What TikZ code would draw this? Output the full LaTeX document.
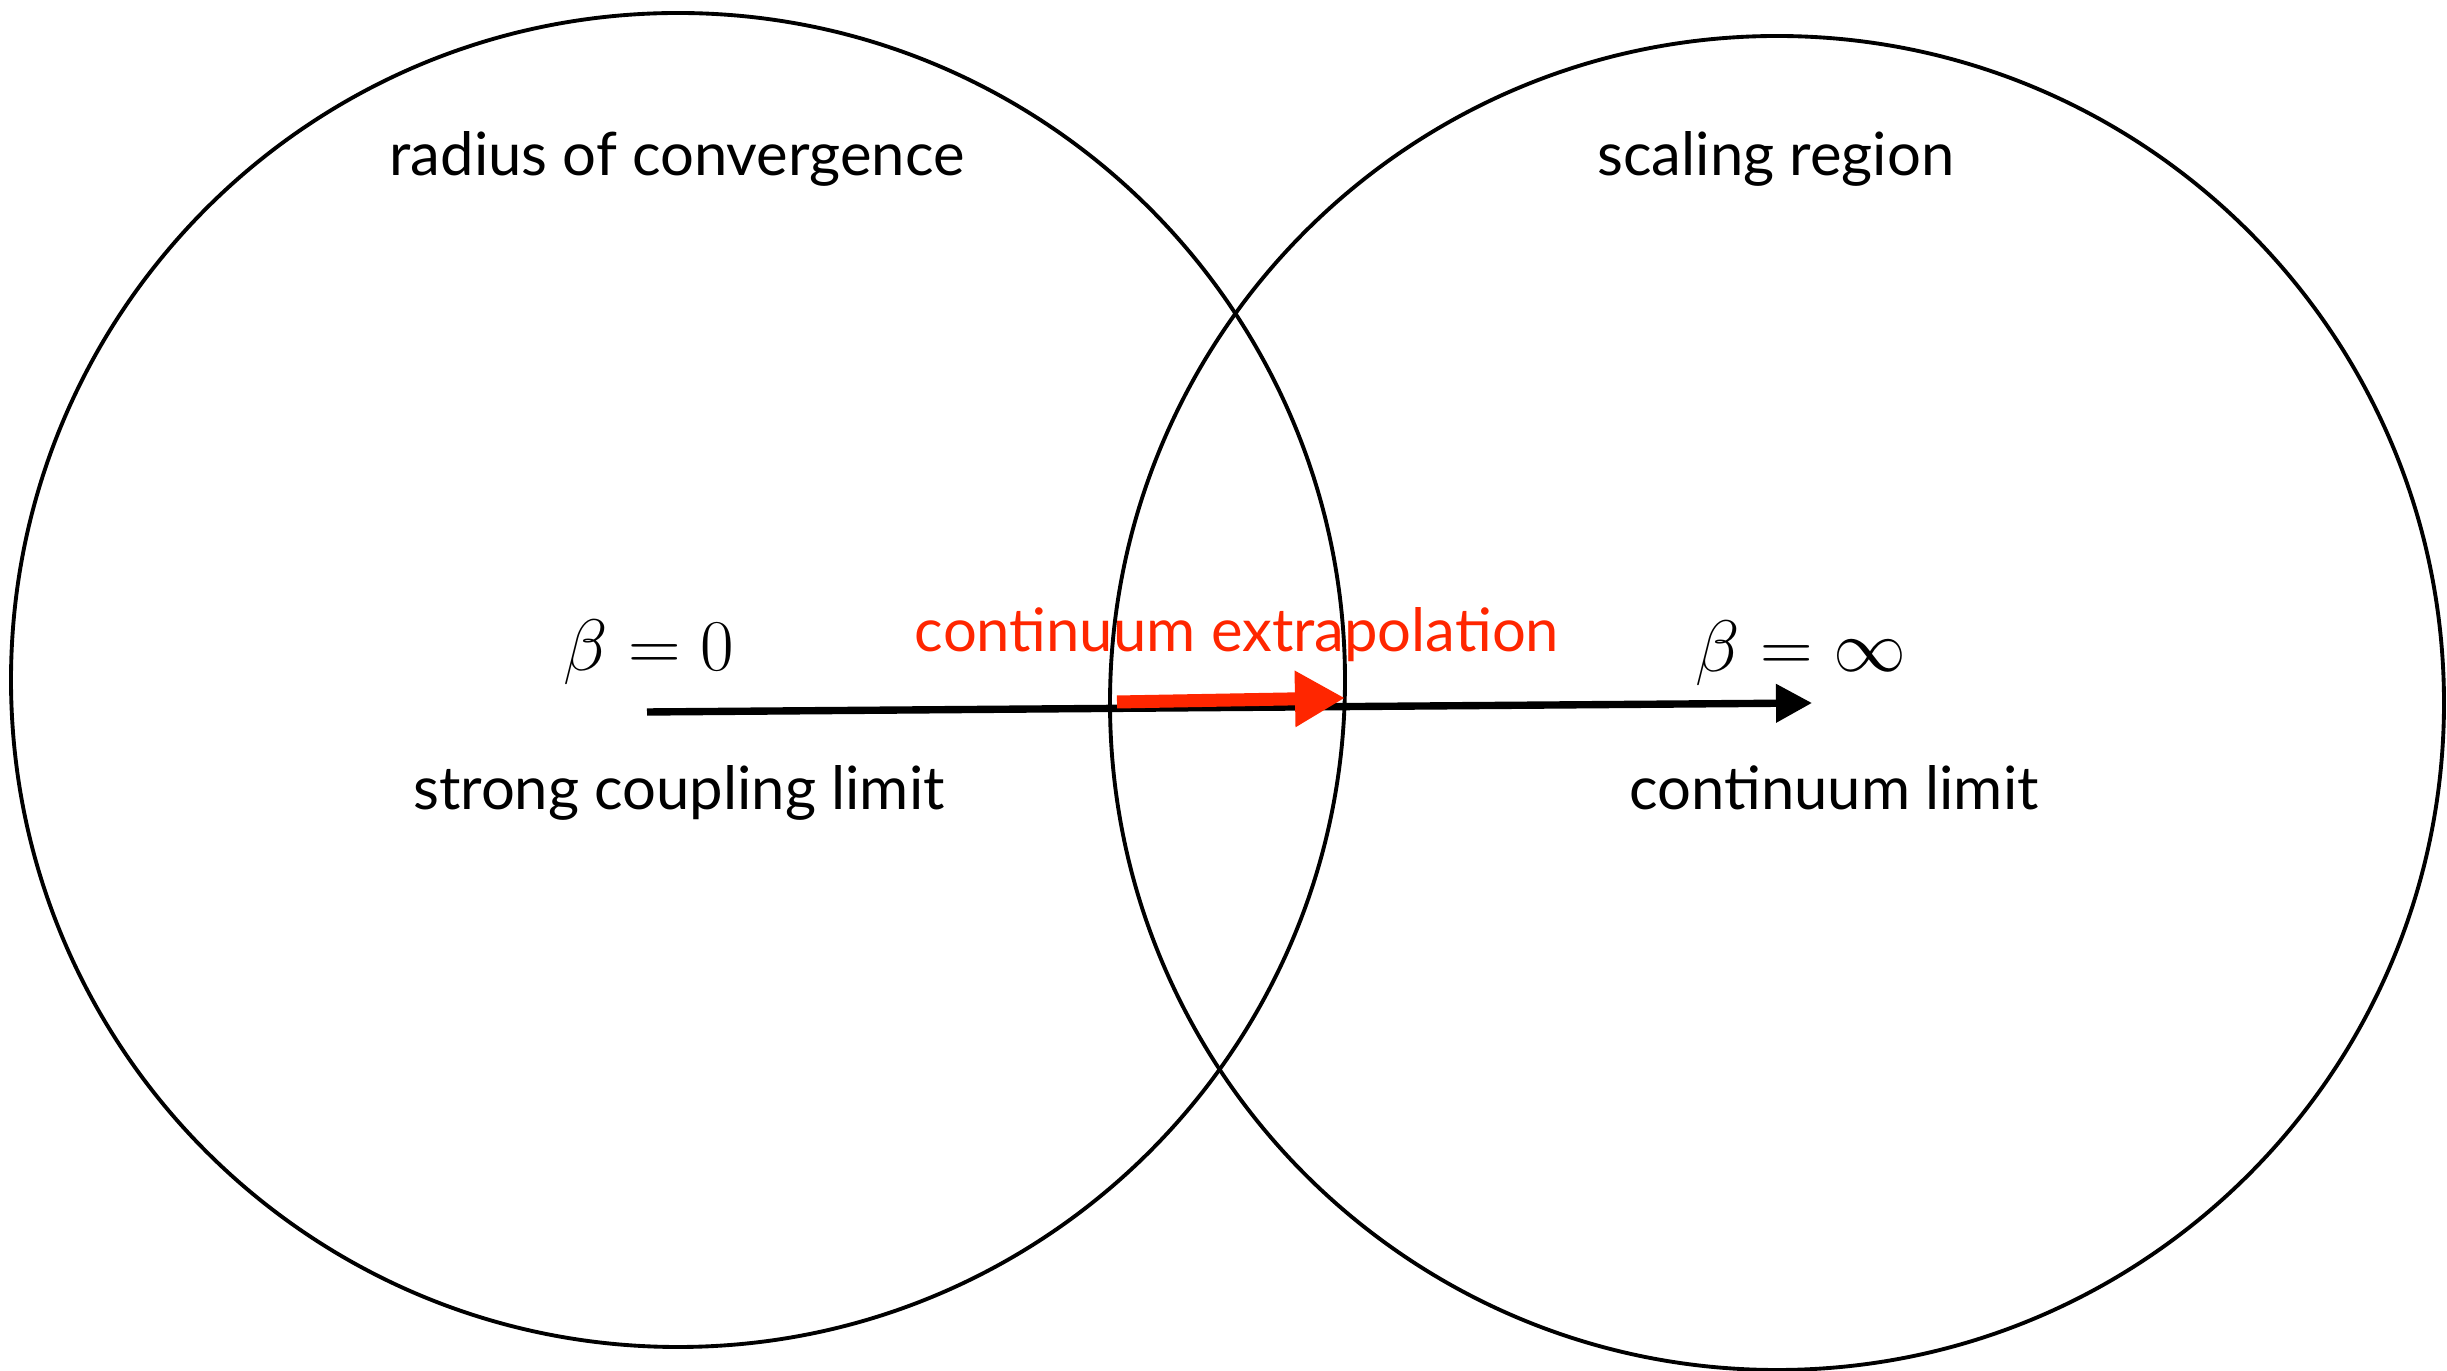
\documentclass[tikz,border=0pt]{standalone}
\usepackage[no-math]{fontspec}
\setmainfont{Lato}
\usetikzlibrary{arrows.meta}
\definecolor{extrared}{HTML}{FF2600}
\tikzset{
  txt/.style={anchor=base, inner sep=0pt, font=\fontsize{17}{20}\selectfont},
  mth/.style={anchor=base, inner sep=0pt, font=\fontsize{20}{24}\selectfont},
  ring/.style={line width=1.1pt},
}
\begin{document}
\begin{tikzpicture}
        \useasboundingbox (0,0) rectangle (24.47,13.71);

        % two regions
        \coordinate (cl) at (6.78,6.91);
        \coordinate (cr) at (17.77,6.68);
        \draw[ring] (cl) circle (6.67cm);
        \draw[ring] (cr) circle (6.67cm);

        \node[txt] (radius) at (6.77,11.95) {radius of convergence};
        \node[txt] (scaling) at (17.76,11.95) {scaling region};

        % beta axis
        \coordinate (b0) at (6.47,6.59);
        \coordinate (binf) at (18.12,6.68);
        \draw[line width=2.1pt, -{Triangle[length=0.36cm, width=0.37cm]}] (b0) -- (binf);

        \node[mth] (beta0) at (6.49,7.00) {$\beta=0$};
        \node[mth] (betainf) at (18.01,6.99) {$\beta=\infty$};
        \node[txt] (strong) at (6.79,5.61) {strong coupling limit};
        \node[txt] (contlim) at (18.34,5.61) {continuum limit};

        % extrapolation
        \coordinate (ex0) at (11.17,6.69);
        \coordinate (ex1) at (13.45,6.73);
        \draw[extrared, line width=3.7pt, -{Triangle[length=0.50cm, width=0.53cm]}] (ex0) -- (ex1);
        \node[txt, text=extrared] (extra) at (12.37,7.19) {continuum extrapolation};

    \end{tikzpicture}
\end{document}
